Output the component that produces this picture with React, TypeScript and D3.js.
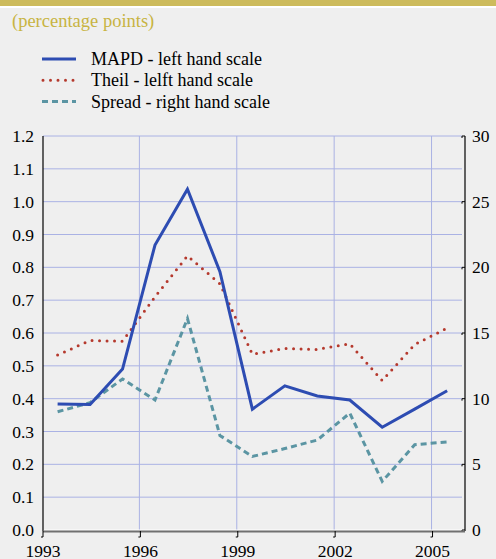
import React from "react";
import * as d3 from "d3";

const years = [1993, 1994, 1995, 1996, 1997, 1998, 1999, 2000, 2001, 2002, 2003, 2004, 2005];
const mapd = [0.384, 0.382, 0.49, 0.868, 1.038, 0.787, 0.368, 0.439, 0.408, 0.396, 0.313, 0.368, 0.424];
const theil = [0.533, 0.577, 0.575, 0.71, 0.835, 0.75, 0.535, 0.553, 0.55, 0.567, 0.455, 0.565, 0.615];
const spread = [9.0, 9.7, 11.5, 9.9, 16.1, 7.2, 5.6, 6.2, 6.85, 8.9, 3.7, 6.5, 6.7];
const leftTicks = [0, 0.1, 0.2, 0.3, 0.4, 0.5, 0.6, 0.7, 0.8, 0.9, 1.0, 1.1, 1.2];
const rightTicks = [0, 5, 10, 15, 20, 25, 30];
const xTicks = [1993, 1996, 1999, 2002, 2005];
const legendItems = ["MAPD - left hand scale", "Theil - lelft hand scale", "Spread - right hand scale"];

const W = 496, H = 559;
const left = 43, right = 465, top = 136, bottom = 530;

function T(props: any) {
  const { children, size, ...rest } = props;
  return (
    <text {...rest} fontFamily="Liberation Serif" style={{ fontFamily: "Liberation Serif", fontSize: size + "px" }}>
      {children}
    </text>
  );
}

export default function App() {
  const x = d3.scaleLinear().domain([1993, 2006]).range([left, right]);
  const yL = d3.scaleLinear().domain([0, 1.2]).range([bottom, top]);
  const yR = d3.scaleLinear().domain([0, 30]).range([bottom, top]);
  const off = 0.45;
  const lineL = d3.line<number>().x((_, i) => x(years[i] + off)).y((d) => yL(d));
  const lineR = d3.line<number>().x((_, i) => x(years[i] + off)).y((d) => yR(d));

  const blue = "#2d4cb2";
  const red = "#b5392d";
  const teal = "#5b95a3";
  const grid = "#aab2e4";

  return (
    <svg width={W} height={H} style={{ position: "absolute", left: 0, top: 0 }}>
      <style>{"text { font-family: 'Liberation Serif', serif; }"}</style>
      <rect x={0} y={0} width={W} height={H} fill="#efefef" />
      <rect x={0} y={0} width={W} height={6} fill="#cdbb5c" />
      <rect x={0} y={6} width={W} height={2} fill="#ffffff" />
      <T x={12} y={27} size={18.5} fill="#c8b442">(percentage points)</T>

      {/* legend */}
      {legendItems.map((t, i) => {
        const yy = 59 + i * 21.3;
        const stroke = [blue, red, teal][i];
        const dash = [undefined, "0 7.5", "6 4"][i];
        const cap = i === 1 ? "round" : "butt";
        return (
          <g key={t}>
            <line x1={i === 1 ? 43 : 42} x2={76} y1={yy} y2={yy} stroke={stroke} strokeWidth={3}
              strokeDasharray={dash} strokeLinecap={cap as any} />
            <T x={91} y={yy + 6} size={18} fill="#000">{t}</T>
          </g>
        );
      })}

      {/* gridlines */}
      {leftTicks.slice(1).map((t) => (
        <line key={"h" + t} x1={left} x2={right - 3} y1={yL(t)} y2={yL(t)} stroke={grid} strokeWidth={1} />
      ))}
      {xTicks.slice(1).map((t) => (
        <line key={"v" + t} x1={x(t) - 1} x2={x(t) - 1} y1={top} y2={bottom} stroke={grid} strokeWidth={1} />
      ))}
      <line x1={left} x2={right} y1={bottom} y2={bottom} stroke="#ffffff" strokeWidth={1} />

      {/* axes */}
      <line x1={left} x2={left} y1={top} y2={bottom + 1} stroke="#000" strokeWidth={1.2} />
      <line x1={right} x2={right} y1={top} y2={bottom + 1} stroke="#000" strokeWidth={1.2} />
      {rightTicks.map((t) => (
        <g key={"rt" + t}>
          <line x1={right - 3} x2={right} y1={yR(t)} y2={yR(t)} stroke="#000" strokeWidth={1} />
          <line x1={right - 3} x2={right - 3} y1={yR(t)} y2={yR(t) + 2} stroke="#000" strokeWidth={1} />
          <T x={472} y={yR(t) + 6} size={17.5} fill="#000">{t}</T>
        </g>
      ))}
      {leftTicks.map((t) => (
        <T key={"lt" + t} x={34} y={yL(t) + 6} size={17.5} textAnchor="end" fill="#000">
          {t.toFixed(1)}
        </T>
      ))}
      <line x1={left} x2={right} y1={bottom + 1.5} y2={bottom + 1.5} stroke="#707070" strokeWidth={2} />
      {xTicks.map((t) => (
        <g key={"xt" + t}>
          <line x1={x(t)} x2={x(t)} y1={bottom + 1} y2={bottom + 7} stroke="#000" strokeWidth={1} />
          <line x1={x(t)} x2={x(t) - 2} y1={bottom + 7} y2={bottom + 7} stroke="#000" strokeWidth={1} />
          <T x={x(t)} y={557} size={17.5} textAnchor="middle" fill="#000">{t}</T>
        </g>
      ))}

      {/* series */}
      <path d={lineR(spread) || ""} fill="none" stroke={teal} strokeWidth={3} strokeDasharray="6 4" />
      <path d={lineL(theil) || ""} fill="none" stroke={red} strokeWidth={3} strokeDasharray="0 7.5" strokeLinecap="round" />
      <path d={lineL(mapd) || ""} fill="none" stroke={blue} strokeWidth={3} strokeLinejoin="miter" />
    </svg>
  );
}
